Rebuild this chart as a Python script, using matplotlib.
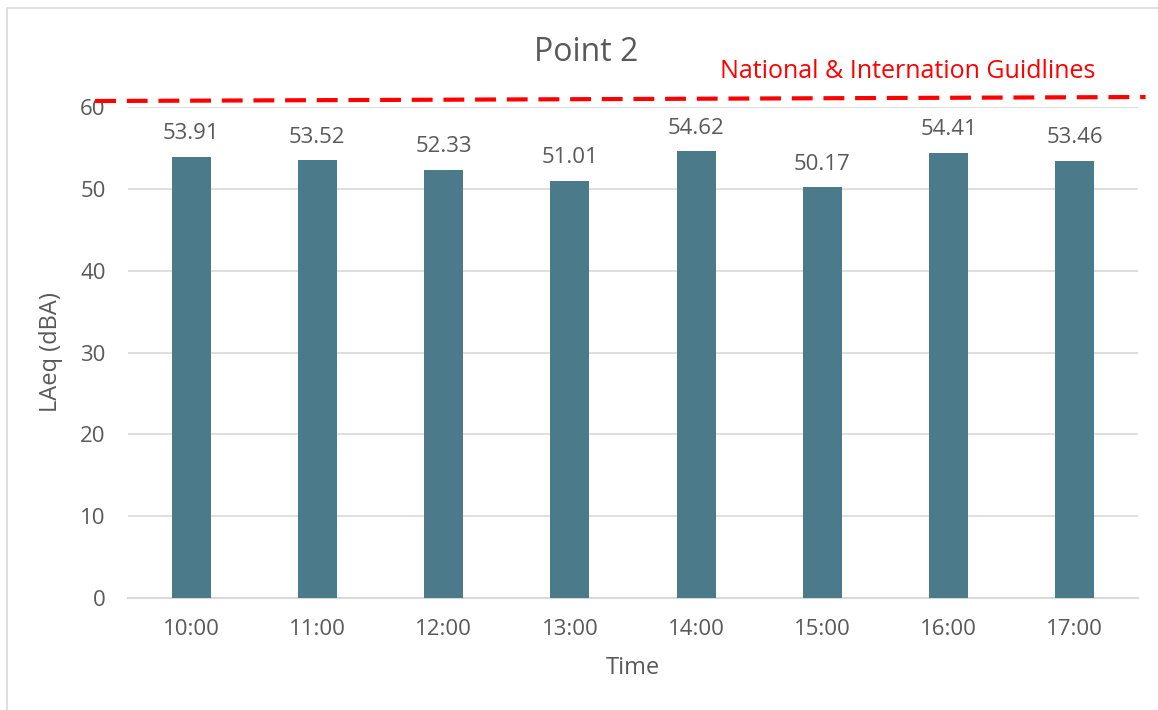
import matplotlib.pyplot as plt
from matplotlib.patches import Rectangle

plt.rcParams['font.family'] = ['Open Sans', 'DejaVu Sans']

times = ['10:00', '11:00', '12:00', '13:00', '14:00', '15:00', '16:00', '17:00']
laeq = [53.91, 53.52, 52.33, 51.01, 54.62, 50.17, 54.41, 53.46]
guideline_x = [-0.76, 7.56]
guideline_y = [60.73, 61.22]

grey = '#595959'

fig = plt.figure(figsize=(11.58, 7.10), dpi=100)
ax = fig.add_axes([0.1105, 0.1577, 0.8722, 0.6916])

# outer chart frame
fig.patches.append(Rectangle((0.006, -0.01), 1.1, 0.999, transform=fig.transFigure,
                             fill=False, edgecolor='#D9D9D9', lw=1.2))

x = range(len(times))
bars = ax.bar(x, laeq, width=0.31, color='#4B7A8A', zorder=3)
for xi, v in zip(x, laeq):
    ax.annotate(f'{v:.2f}', (xi, v), xytext=(0, 9), textcoords='offset points',
                ha='center', va='bottom', fontsize=16, color=grey)

ax.set_xlim(-0.5, len(times) - 0.5)
ax.set_ylim(0, 60)
ax.set_yticks(range(0, 61, 10))
ax.set_xticks(list(x))
ax.set_xticklabels(times)
ax.yaxis.grid(True, color='#D9D9D9', lw=1.2, zorder=0)
ax.tick_params(length=0, labelsize=16, labelcolor=grey)
ax.tick_params(axis='y', pad=16)
ax.tick_params(axis='x', pad=15)
for s in ['top', 'right', 'left']:
    ax.spines[s].set_visible(False)
ax.spines['bottom'].set_color('#D9D9D9')
ax.spines['bottom'].set_linewidth(1.5)

ax.set_xlabel('Time', fontsize=17, color=grey, va='center')
ax.set_ylabel('LAeq (dBA)', fontsize=17, color=grey, va='center')
ax.xaxis.set_label_coords(0.5, -0.1426)
ax.yaxis.set_label_coords(-0.076, 0.5)
fig.text(0.5065, 0.9254, 'Point 2', fontsize=23, color=grey, ha='center', va='center')

# guideline limit line
ax.plot(guideline_x, guideline_y, color='red', lw=3, dashes=(5, 2.6), clip_on=False, zorder=4)
ax.text(7.159, 64.3, 'National & Internation Guidlines', color='red', fontsize=18,
        ha='right', va='center')

fig.savefig('out.png', dpi=100)
